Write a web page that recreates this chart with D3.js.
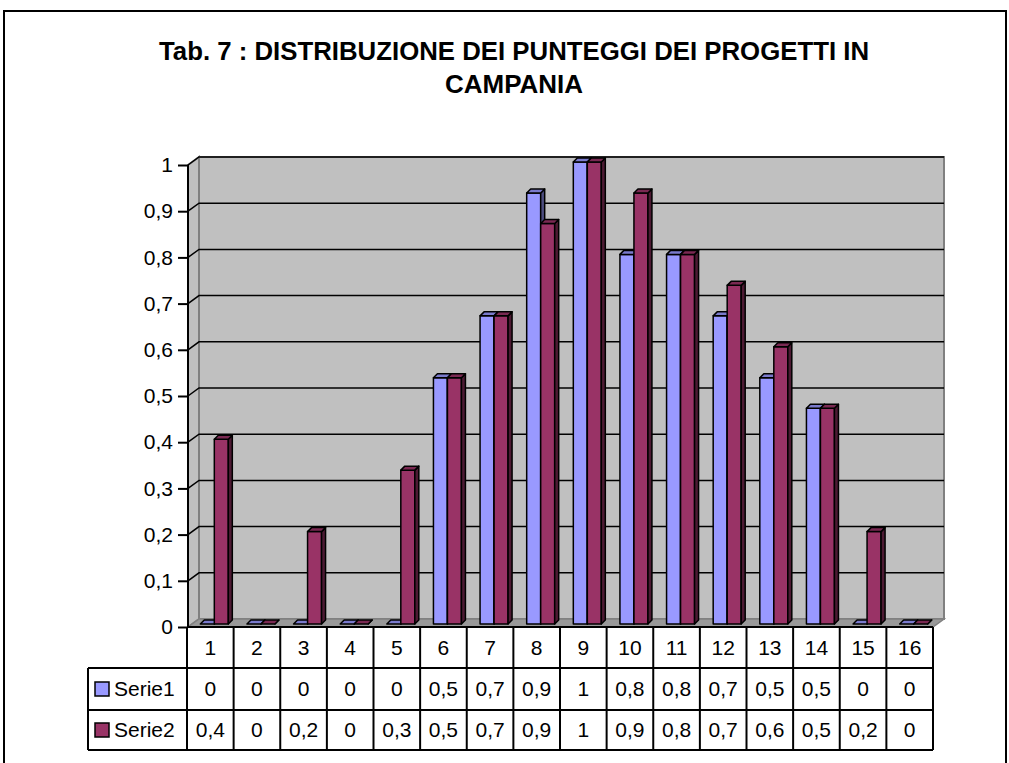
<!DOCTYPE html>
<html><head><meta charset="utf-8">
<script src="https://cdn.jsdelivr.net/npm/d3@7"></script>
<style>body{margin:0;background:#fff}svg{display:block;font-family:"Liberation Sans",Arial,sans-serif}</style>
</head><body>
<svg id="c" width="1009" height="763"></svg>
<script>
const categories = ["1","2","3","4","5","6","7","8","9","10","11","12","13","14","15","16"];
const seriesNames = ["Serie1","Serie2"];
const serie1 = [0,0,0,0,0,0.533,0.667,0.933,1,0.8,0.8,0.667,0.533,0.467,0,0];
const serie2 = [0.4,0,0.2,0,0.333,0.533,0.667,0.867,1,0.933,0.8,0.733,0.6,0.467,0.2,0];
const yTicks = [0,0.1,0.2,0.3,0.4,0.5,0.6,0.7,0.8,0.9,1];
const titleLines = ["Tab. 7 : DISTRIBUZIONE DEI PUNTEGGI DEI PROGETTI IN","CAMPANIA"];
const colors = [{front:"#9999FF",top:"#7A7ACC",side:"#4D4D80"},{front:"#993366",top:"#7A2952",side:"#4D1A33"}];

const svg = d3.select("#c");
const it = d3.formatLocale({decimal:",",thousands:".",grouping:[3],currency:["€",""]});
const fmt = it.format(".1~f");

// outer border
svg.append("rect").attr("x",4).attr("y",11).attr("width",1002).attr("height",770)
  .attr("fill","#fff").attr("stroke","#000").attr("stroke-width",2);

// title
titleLines.forEach((t,i)=>{
  svg.append("text").attr("x",514).attr("y",[60,93][i]).attr("text-anchor","middle")
    .attr("font-weight","bold").attr("font-size",26)
    .attr("textLength",i===0?710:138).attr("lengthAdjust","spacingAndGlyphs").text(t);
});

const x = d3.scaleBand().domain(categories).range([187,933]);
const y = d3.scaleLinear().domain([0,1]).range([627,165]);
const DX = 11, DY = -8;           // wall depth
const BX = 4, BY = -3, BD = 4;    // bar front-plane offset and bar depth

const g = svg.append("g");
// left wall
g.append("path").attr("d",`M188,${y(1)}L${188+DX},${y(1)+DY}L${188+DX},${y(0)+DY}L188,${y(0)}Z`)
  .attr("fill","#C0C0C0").attr("stroke","#808080").attr("stroke-width",2);
// back wall
g.append("rect").attr("x",188+DX).attr("y",y(1)+DY).attr("width",933-188).attr("height",y(0)-y(1))
  .attr("fill","#C0C0C0").attr("stroke","#808080").attr("stroke-width",2);
// floor
g.append("path").attr("d",`M188,${y(0)}L${188+DX},${y(0)+DY}L${933+DX},${y(0)+DY}L933,${y(0)}Z`)
  .attr("fill","#999999").attr("stroke","#808080").attr("stroke-width",1.5);
// gridlines
yTicks.filter(v=>v>0).forEach(v=>{
  g.append("path").attr("d",`M188,${y(v)}L${188+DX},${y(v)+DY}L${933+DX},${y(v)+DY}`)
    .attr("fill","none").attr("stroke","#000").attr("stroke-width",1.5);
});

// bars
const bw = 14;
const bars = g.append("g");
categories.forEach((c,i)=>{
  [serie1,serie2].forEach((s,k)=>{
    const v = s[i];
    const x0 = x(c) + (x.bandwidth()-2*bw)/2 + k*bw + BX;
    const x1 = x0 + bw;
    const yb = y(0)+BY, yt = y(v)+BY;
    const col = colors[k];
    const bg = bars.append("g").attr("stroke","#000").attr("stroke-width",1.5).attr("stroke-linejoin","round");
    if (v>0) bg.append("rect").attr("x",x0).attr("y",yt).attr("width",bw).attr("height",yb-yt).attr("fill",col.front);
    bg.append("path").attr("d",`M${x1},${yt}L${x1+BD},${yt-BD}L${x1+BD},${yb-BD}L${x1},${yb}Z`).attr("fill",col.side);
    bg.append("path").attr("d",`M${x0},${yt}L${x0+BD},${yt-BD}L${x1+BD},${yt-BD}L${x1},${yt}Z`).attr("fill",col.top);
  });
});

// y axis
const ax = svg.append("g").attr("transform","translate(188,0)")
  .call(d3.axisLeft(y).tickValues(yTicks).tickFormat(fmt).tickSize(10).tickPadding(5));
ax.selectAll("path,line").attr("stroke","#000").attr("stroke-width",2);
ax.select(".domain").attr("d",`M0,${y(1)}V${y(0)}`);
ax.selectAll("text").attr("font-size",21).attr("fill","#000").attr("font-family","Liberation Sans,Arial,sans-serif");

// data table
const rows = [627,668,710,750];
const tbl = svg.append("g").attr("stroke","#000").attr("stroke-width",2);
tbl.append("line").attr("x1",187).attr("x2",933).attr("y1",rows[0]).attr("y2",rows[0]);
tbl.append("line").attr("x1",88).attr("x2",933).attr("y1",rows[1]).attr("y2",rows[1]);
tbl.append("line").attr("x1",88).attr("x2",933).attr("y1",rows[2]).attr("y2",rows[2]);
tbl.append("line").attr("x1",88).attr("x2",933).attr("y1",rows[3]).attr("y2",rows[3]);
tbl.append("line").attr("x1",88).attr("x2",88).attr("y1",rows[1]).attr("y2",rows[3]);
categories.concat(["end"]).forEach((c,i)=>{
  const xx = i<categories.length ? x(c) : x.range()[1];
  tbl.append("line").attr("x1",xx).attr("x2",xx).attr("y1",rows[0]).attr("y2",rows[3]);
});
const tt = svg.append("g").attr("font-size",21).attr("text-anchor","middle").attr("fill","#000");
categories.forEach((c,i)=>{
  const cx = x(c)+x.bandwidth()/2;
  tt.append("text").attr("x",cx).attr("y",(rows[0]+rows[1])/2+7).text(c);
  tt.append("text").attr("x",cx).attr("y",(rows[1]+rows[2])/2+7).text(fmt(serie1[i]));
  tt.append("text").attr("x",cx).attr("y",(rows[2]+rows[3])/2+7).text(fmt(serie2[i]));
});
seriesNames.forEach((n,k)=>{
  const cy = (rows[k+1]+rows[k+2])/2;
  svg.append("rect").attr("x",95).attr("y",cy-7).attr("width",14).attr("height",14)
    .attr("fill",colors[k].front).attr("stroke","#000").attr("stroke-width",1.5);
  svg.append("text").attr("x",114).attr("y",cy+7).attr("font-size",21).text(n);
});
</script>
</body></html>
